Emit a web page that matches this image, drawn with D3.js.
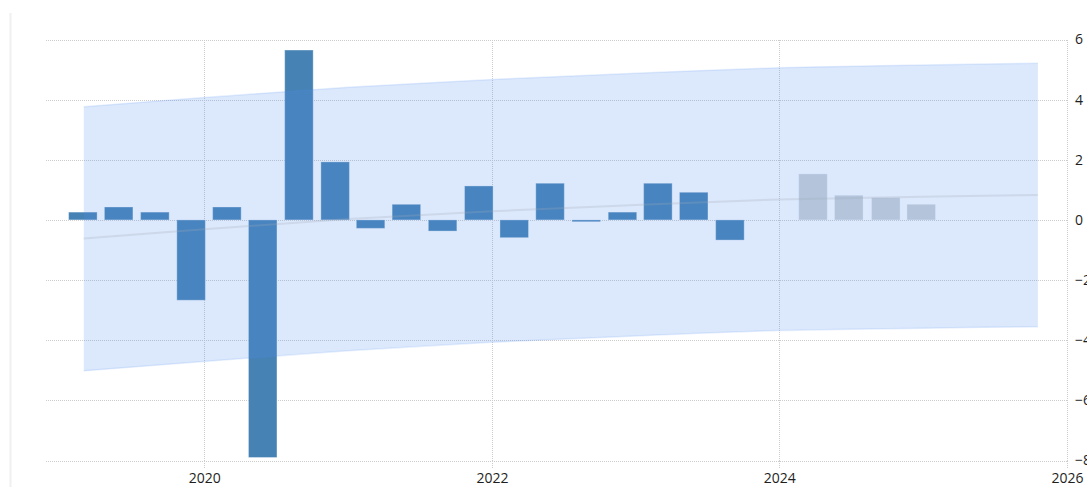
<!DOCTYPE html>
<html>
<head>
<meta charset="utf-8">
<script src="https://cdn.jsdelivr.net/npm/d3@7"></script>
<style>
  html, body { margin: 0; padding: 0; background: #fff; }
  svg { display: block; }
  .grid line { stroke: #cccccc; stroke-width: 1; stroke-dasharray: 1,1; shape-rendering: crispEdges; }
  .axis text { font-family: "Open Sans", sans-serif; font-size: 14px; fill: #1e1e1e; }
  .axis path { display: none; }
  .axis line { stroke: #cccccc; stroke-dasharray: 1,1; shape-rendering: crispEdges; }
</style>
</head>
<body>
<svg id="chart" width="1087" height="487"></svg>
<script>
// -----------------------------------------------------------------------------

var quarterDates = [
  '2019-03-31', '2019-06-30', '2019-09-30', '2019-12-31',
  '2020-03-31', '2020-06-30', '2020-09-30', '2020-12-31',
  '2021-03-31', '2021-06-30', '2021-09-30', '2021-12-31',
  '2022-03-31', '2022-06-30', '2022-09-30', '2022-12-31',
  '2023-03-31', '2023-06-30', '2023-09-30'
];
var quarterValues = [
  0.26, 0.43, 0.26, -2.67,
  0.43, -7.9, 5.65, 1.93,
  -0.28, 0.52, -0.37, 1.13,
  -0.59, 1.22, -0.06, 0.26,
  1.22, 0.92, -0.67
];

var forecastDates = ['2024-04-28', '2024-07-28', '2024-10-30', '2025-01-28'];
var forecastValues = [1.53, 0.82, 0.74, 0.52];

var bandDates = [
  '2019-03-01', '2020-01-01', '2021-01-01', '2022-01-01',
  '2023-01-01', '2024-01-01', '2025-01-01', '2025-10-19'
];
var bandUpper = [3.76, 4.07, 4.41, 4.67, 4.88, 5.06, 5.15, 5.21];
var bandMid = [-0.62, -0.31, 0.03, 0.29, 0.50, 0.68, 0.77, 0.83];
var bandLower = [-5.02, -4.71, -4.35, -4.07, -3.86, -3.68, -3.60, -3.55];

var yearTicks = ['2020-01-01', '2022-01-01', '2024-01-01', '2026-01-01'];
var valueTicks = [-8, -6, -4, -2, 0, 2, 4, 6];

// -----------------------------------------------------------------------------

var parseDate = d3.timeParse('%Y-%m-%d');

var svg = d3.select('#chart');

var plotLeft = 46;
var plotRight = 1067;
var plotTop = 39.5;
var plotBottom = 460.5;
var barWidth = 28.5;

var x = d3.scaleTime()
  .domain([parseDate('2018-11-25'), parseDate('2026-01-01')])
  .range([plotLeft, plotRight]);

var y = d3.scaleLinear()
  .domain([-8, 6])
  .range([plotBottom, plotTop]);

// - - - - - - - - - - - - - - - - - - - - - - - - - - - - - - - - - - - - - -

// faint frame line on the left
svg.append('line')
  .attr('x1', 10.5).attr('x2', 10.5)
  .attr('y1', 13).attr('y2', 487)
  .attr('stroke', '#f0f0f0')
  .attr('stroke-width', 2);

// horizontal grid + right value labels
var yAxis = d3.axisRight(y)
  .tickValues(valueTicks)
  .tickSize(-(plotRight - plotLeft))
  .tickPadding(8)
  .tickFormat(d3.format('d'));

svg.append('g')
  .attr('class', 'axis grid')
  .attr('transform', 'translate(' + plotRight + ',0)')
  .call(yAxis)
  .selectAll('text')
  .attr('text-anchor', 'start');

// vertical grid
svg.append('g')
  .attr('class', 'grid')
  .selectAll('line')
  .data(yearTicks.map(parseDate))
  .join('line')
  .attr('x1', function (d) { return Math.round(x(d)) + 0.5; })
  .attr('x2', function (d) { return Math.round(x(d)) + 0.5; })
  .attr('y1', plotTop)
  .attr('y2', plotBottom);

// bottom year labels with short ticks
var xAxis = d3.axisBottom(x)
  .tickValues(yearTicks.map(parseDate))
  .tickSize(8)
  .tickPadding(5)
  .tickFormat(d3.timeFormat('%Y'));

svg.append('g')
  .attr('class', 'axis')
  .attr('transform', 'translate(0,' + plotBottom + ')')
  .call(xAxis);

// - - - - - - - - - - - - - - - - - - - - - - - - - - - - - - - - - - - - - -

var bars = quarterDates.map(function (d, i) {
  return { date: parseDate(d), value: quarterValues[i] };
});
var forecastBars = forecastDates.map(function (d, i) {
  return { date: parseDate(d), value: forecastValues[i] };
});

function drawBars(data, cls, fill) {
  svg.append('g')
    .attr('class', cls)
    .selectAll('rect')
    .data(data)
    .join('rect')
    .attr('x', function (d) { return x(d.date) + 1.5 - barWidth; })
    .attr('width', barWidth)
    .attr('y', function (d) { return y(Math.max(0, d.value)); })
    .attr('height', function (d) { return Math.abs(y(d.value) - y(0)); })
    .attr('fill', fill)
    .attr('stroke', 'rgba(255,255,255,0.35)')
    .attr('stroke-width', 1);
}

drawBars(bars, 'bars', '#4682b4');
drawBars(forecastBars, 'forecast-bars', '#ccd2d6');

// - - - - - - - - - - - - - - - - - - - - - - - - - - - - - - - - - - - - - -

var band = bandDates.map(function (d, i) {
  return {
    date: parseDate(d),
    upper: bandUpper[i],
    mid: bandMid[i],
    lower: bandLower[i]
  };
});

var bandArea = d3.area()
  .curve(d3.curveMonotoneX)
  .x(function (d) { return x(d.date); })
  .y0(function (d) { return y(d.lower); })
  .y1(function (d) { return y(d.upper); });

svg.append('path')
  .datum(band)
  .attr('d', bandArea)
  .attr('fill', 'rgb(80,140,240)')
  .attr('fill-opacity', 0.2);

function edgeLine(key) {
  return d3.line()
    .curve(d3.curveMonotoneX)
    .x(function (d) { return x(d.date); })
    .y(function (d) { return y(d[key]); });
}

svg.append('path')
  .datum(band)
  .attr('d', edgeLine('upper'))
  .attr('fill', 'none')
  .attr('stroke', 'rgba(90,150,240,0.15)')
  .attr('stroke-width', 1.5);

svg.append('path')
  .datum(band)
  .attr('d', edgeLine('lower'))
  .attr('fill', 'none')
  .attr('stroke', 'rgba(90,150,240,0.15)')
  .attr('stroke-width', 1.5);

svg.append('path')
  .datum(band)
  .attr('d', edgeLine('mid'))
  .attr('fill', 'none')
  .attr('stroke', 'rgba(160,170,185,0.25)')
  .attr('stroke-width', 2);

// -----------------------------------------------------------------------------
</script>
</body>
</html>
